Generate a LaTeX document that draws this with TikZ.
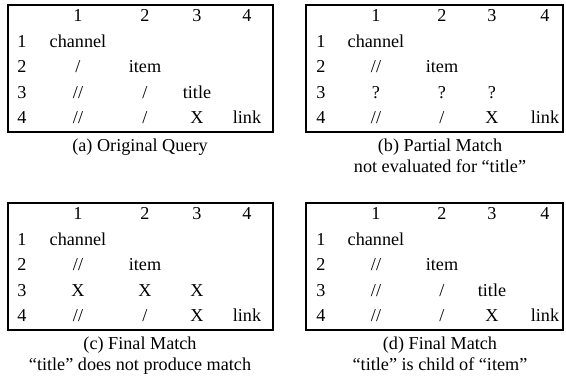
\documentclass[tikz,border=0pt]{standalone}
\usepackage{fontspec}
\setmainfont{Liberation Serif}
\usetikzlibrary{positioning}

\begin{document}
\begin{tikzpicture}[x=0.55pt,y=-0.55pt]
                \tikzstyle{every node}+=[inner sep=0pt, anchor=base]
                \tikzstyle{frame}=[draw=black, line width=1.1pt]
                \useasboundingbox (0,0) rectangle (566,379);
                % (a) original query
                \draw [frame] (8,5) rectangle (273,132);
                \foreach \c/\x in {1/78,2/145,3/197,4/247}
                    \node (ah\c) at (\x,22) {\c};
                \foreach \r/\y in {1/47.5,2/73,3/98.5,4/124}
                    \node (ar\r) at (22,\y) {\r};
                \node (a11) at (78,47.5) {channel};
                \node (a21) at (78,73) {/};
                \node (a22) at (145,73) {item};
                \node (a31) at (78,98.5) {//};
                \node (a32) at (145,98.5) {/};
                \node (a33) at (197,98.5) {title};
                \node (a41) at (78,124) {//};
                \node (a42) at (145,124) {/};
                \node (a43) at (197,124) {X};
                \node (a44) at (247,124) {link};
                \node (capa) at (140,152) {(a) Original Query};
                % (b) partial match
                \draw [frame] (306,5) rectangle (563,132);
                \foreach \c/\x in {1/376,2/442,3/492,4/545}
                    \node (bh\c) at (\x,22) {\c};
                \foreach \r/\y in {1/47.5,2/73,3/98.5,4/124}
                    \node (br\r) at (321,\y) {\r};
                \node (b11) at (376,47.5) {channel};
                \node (b21) at (376,73) {//};
                \node (b22) at (442,73) {item};
                \node (b31) at (376,98.5) {?};
                \node (b32) at (442,98.5) {?};
                \node (b33) at (492,98.5) {?};
                \node (b41) at (376,124) {//};
                \node (b42) at (442,124) {/};
                \node (b43) at (492,124) {X};
                \node (b44) at (545,124) {link};
                \node (capb1) at (440,152) {(b) Partial Match};
                \node (capb2) at (440,173) {not evaluated for ``title''};
                % (c) final match, no match
                \draw [frame] (8,203) rectangle (273,330);
                \foreach \c/\x in {1/78,2/145,3/197,4/247}
                    \node (ch\c) at (\x,220) {\c};
                \foreach \r/\y in {1/245.5,2/271,3/296.5,4/322}
                    \node (cr\r) at (22,\y) {\r};
                \node (c11) at (78,245.5) {channel};
                \node (c21) at (78,271) {//};
                \node (c22) at (145,271) {item};
                \node (c31) at (78,296.5) {X};
                \node (c32) at (145,296.5) {X};
                \node (c33) at (197,296.5) {X};
                \node (c41) at (78,322) {//};
                \node (c42) at (145,322) {/};
                \node (c43) at (197,322) {X};
                \node (c44) at (247,322) {link};
                \node (capc1) at (140,350) {(c) Final Match};
                \node (capc2) at (140,371) {``title'' does not produce match};
                % (d) final match, child
                \draw [frame] (306,203) rectangle (563,330);
                \foreach \c/\x in {1/376,2/442,3/492,4/545}
                    \node (dh\c) at (\x,220) {\c};
                \foreach \r/\y in {1/245.5,2/271,3/296.5,4/322}
                    \node (dr\r) at (321,\y) {\r};
                \node (d11) at (376,245.5) {channel};
                \node (d21) at (376,271) {//};
                \node (d22) at (442,271) {item};
                \node (d31) at (376,296.5) {//};
                \node (d32) at (442,296.5) {/};
                \node (d33) at (492,296.5) {title};
                \node (d41) at (376,322) {//};
                \node (d42) at (442,322) {/};
                \node (d43) at (492,322) {X};
                \node (d44) at (545,322) {link};
                \node (capd1) at (440,350) {(d) Final Match};
                \node (capd2) at (440,371) {``title'' is child of ``item''};
\end{tikzpicture}
\end{document}
